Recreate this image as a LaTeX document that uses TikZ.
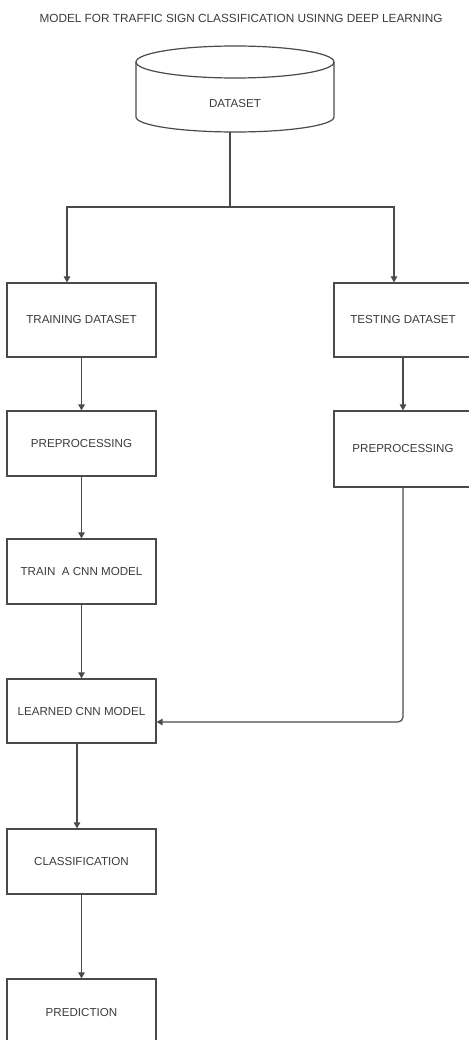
\documentclass[tikz,border=0pt]{standalone}
\usepackage{fontspec}
\setmainfont{Liberation Sans}
\usetikzlibrary{arrows.meta,calc}
\definecolor{lc}{HTML}{4A4A4A}
\definecolor{tc}{HTML}{3C3C3C}
\tikzset{
  box/.style={draw=lc, line width=1.2pt, rectangle, minimum width=149pt, inner sep=0pt, text=tc, font=\fontsize{11.6}{13}\selectfont},
  conn/.style={draw=lc, line width=1.2pt},
  arr/.style={conn, -{Triangle[length=6pt,width=6.5pt]}},
}
\begin{document}
\begin{tikzpicture}[x=1pt,y=-1pt]
\useasboundingbox (0,0) rectangle (468,1040);
\fill[white] (0,0) rectangle (468,1040);
\node[text=tc, font=\fontsize{11.8}{13}\selectfont] (title) at (241,18) {MODEL FOR TRAFFIC SIGN CLASSIFICATION USINNG DEEP LEARNING};
% cylinder
\draw[conn] (235,62) ellipse [x radius=99pt, y radius=16pt];
\draw[conn] (136,62) -- (136,117) arc[start angle=180, end angle=360, x radius=99pt, y radius=15pt] -- (334,62);
\node[text=tc, font=\fontsize{11.6}{13}\selectfont] (dataset) at (235,104) {DATASET};
\coordinate (dsb) at (230,132);
% boxes
\node[box, minimum height=74pt] (train) at (81.5,320) {TRAINING DATASET};
\node[box, minimum width=138pt, minimum height=74pt] (test) at (403,320) {TESTING DATASET};
\node[box, minimum height=65pt] (pre1) at (81.5,443.5) {PREPROCESSING};
\node[box, minimum width=138pt, minimum height=76pt] (pre2) at (403,449) {PREPROCESSING};
\node[box, minimum height=65pt] (cnn) at (81.5,571.5) {TRAIN\ \ A CNN MODEL};
\node[box, minimum height=64pt] (learned) at (81.5,711) {LEARNED CNN MODEL};
\node[box, minimum height=65pt] (class) at (81.5,861.5) {CLASSIFICATION};
\node[box, minimum height=66pt] (pred) at (81.5,1012) {PREDICTION};
% connectors
\coordinate (split) at (230,207);
\coordinate (tl) at (67,207);
\coordinate (tr) at (394,207);
\draw[conn] (dsb) -- (split);
\draw[arr] (split) -- (tl) -- (tl |- train.north);
\draw[arr] (split) -- (tr) -- (tr |- test.north);
\draw[arr] (train) -- (pre1);
\draw[arr] (test) -- (pre2);
\draw[arr] (pre1) -- (cnn);
\draw[arr] (cnn) -- (learned);
\coordinate (lin) at ($(learned.east)+(0,11)$);
\draw[arr, rounded corners=5pt] (pre2.south) |- (lin);
\draw[arr] ([xshift=-4.5pt]learned.south) -- ([xshift=-4.5pt]class.north);
\draw[arr] (class) -- (pred);
\end{tikzpicture}
\end{document}
